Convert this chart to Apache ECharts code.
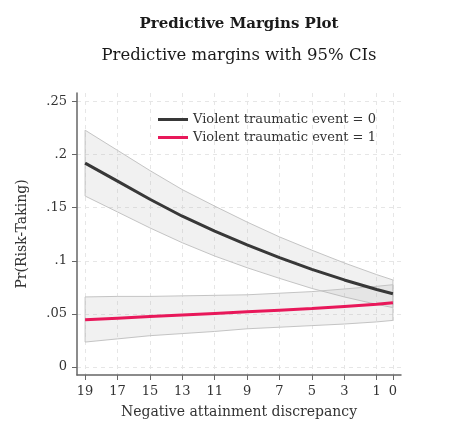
<!DOCTYPE html>
<html><head><meta charset="utf-8">
<script src="https://cdn.jsdelivr.net/npm/echarts@6/dist/echarts.min.js"></script>
<style>html,body{margin:0;padding:0;background:#fff}#c{width:454px;height:426px}</style>
</head><body><div id="c"></div>
<script>
// Negative attainment discrepancy values (x), read at labelled ticks
const xValues = [19, 17, 15, 13, 11, 9, 7, 5, 3, 1, 0];
const xTicks = [19, 17, 15, 13, 11, 9, 7, 5, 3, 1, 0];
const yTicks = [0, 0.05, 0.1, 0.15, 0.2, 0.25];
const yTickLabels = ['0', '.05', '.1', '.15', '.2', '.25'];
// Violent traumatic event = 0
const margin0 = [0.192, 0.175, 0.158, 0.142, 0.128, 0.115, 0.103, 0.092, 0.082, 0.073, 0.069];
const upper0  = [0.223, 0.204, 0.185, 0.167, 0.1515, 0.1365, 0.1225, 0.110, 0.098, 0.087, 0.082];
const lower0  = [0.161, 0.146, 0.131, 0.117, 0.1045, 0.0935, 0.0835, 0.074, 0.066, 0.059, 0.056];
// Violent traumatic event = 1
const margin1 = [0.0445, 0.046, 0.0475, 0.049, 0.0505, 0.052, 0.0535, 0.055, 0.057, 0.059, 0.0605];
const upper1  = [0.066, 0.0665, 0.0665, 0.067, 0.0675, 0.068, 0.0695, 0.071, 0.0735, 0.076, 0.0775];
const lower1  = [0.0235, 0.0265, 0.0295, 0.0315, 0.0335, 0.036, 0.0375, 0.039, 0.0405, 0.0425, 0.0439];
const seriesNames = ['Violent traumatic event = 0', 'Violent traumatic event = 1'];

const FONT = 'DejaVu Serif';
const chart = echarts.init(document.getElementById('c'), null, {renderer: 'canvas'});

function band(upper, lower) {
  return {
    type: 'custom',
    silent: true,
    z: 1,
    data: [0],
    renderItem: function (params, api) {
      const pts = [];
      for (let i = 0; i < xValues.length; i++) pts.push(api.coord([xValues[i], upper[i]]));
      for (let i = xValues.length - 1; i >= 0; i--) pts.push(api.coord([xValues[i], lower[i]]));
      return {
        type: 'polygon',
        shape: {points: pts},
        style: {fill: 'rgba(180,180,180,0.18)', stroke: '#c4c4c4', lineWidth: 1}
      };
    }
  };
}
function pairs(ys) { return xValues.map((x, i) => [x, ys[i]]); }

chart.setOption({
  animation: false,
  backgroundColor: '#fff',
  title: [
    {text: 'Predictive Margins Plot', left: 234, top: 12, textAlign: 'center',
     textStyle: {fontFamily: FONT, fontSize: 15, fontWeight: 'bold', color: '#1a1a1a'}},
    {text: 'Predictive margins with 95% CIs', left: 234, top: 42, textAlign: 'center',
     textStyle: {fontFamily: FONT, fontSize: 16.5, fontWeight: 'normal', color: '#1a1a1a'}}
  ],
  legend: {
    data: seriesNames,
    orient: 'vertical',
    left: 153, top: 108,
    icon: 'rect',
    itemWidth: 30, itemHeight: 3, itemGap: 5,
    textStyle: {fontFamily: FONT, fontSize: 13, color: '#333'}
  },
  grid: {left: 77, right: 53, top: 93, bottom: 51, containLabel: false},
  xAxis: {
    type: 'value', inverse: true, min: -0.5, max: 19.5,
    name: 'Negative attainment discrepancy', nameLocation: 'middle', nameGap: 30,
    nameTextStyle: {fontFamily: FONT, fontSize: 14, color: '#333'},
    axisLine: {onZero: false, lineStyle: {color: '#666', width: 1.5}},
    axisTick: {show: true, length: 5, lineStyle: {color: '#666'}, customValues: xTicks},
    axisLabel: {customValues: xTicks, margin: 10, fontFamily: FONT, fontSize: 13, color: '#333'},
    splitLine: {show: true, lineStyle: {color: '#e6e6e6', type: [4, 4], width: 1}}
  },
  yAxis: {
    type: 'value', min: -0.0075, max: 0.258,
    name: 'Pr(Risk-Taking)', nameLocation: 'middle', nameGap: 48,
    nameTextStyle: {fontFamily: FONT, fontSize: 14, color: '#333'},
    axisLine: {show: true, onZero: false, lineStyle: {color: '#666', width: 1.5}},
    axisTick: {show: true, length: 5, lineStyle: {color: '#666'}, customValues: yTicks},
    axisLabel: {customValues: yTicks, margin: 10, fontFamily: FONT, fontSize: 13, color: '#333',
      formatter: function (v) { const i = yTicks.findIndex(t => Math.abs(t - v) < 1e-9); return i >= 0 ? yTickLabels[i] : ''; }},
    splitLine: {show: true, lineStyle: {color: '#e6e6e6', type: [4, 4], width: 1}}
  },
  series: [
    band(upper0, lower0),
    band(upper1, lower1),
    {name: seriesNames[0], type: 'line', data: pairs(margin0), symbol: 'none', z: 3,
     lineStyle: {color: '#383838', width: 3}, itemStyle: {color: '#383838'}},
    {name: seriesNames[1], type: 'line', data: pairs(margin1), symbol: 'none', z: 3,
     lineStyle: {color: '#e8185a', width: 3}, itemStyle: {color: '#e8185a'}}
  ]
});
</script></body></html>
